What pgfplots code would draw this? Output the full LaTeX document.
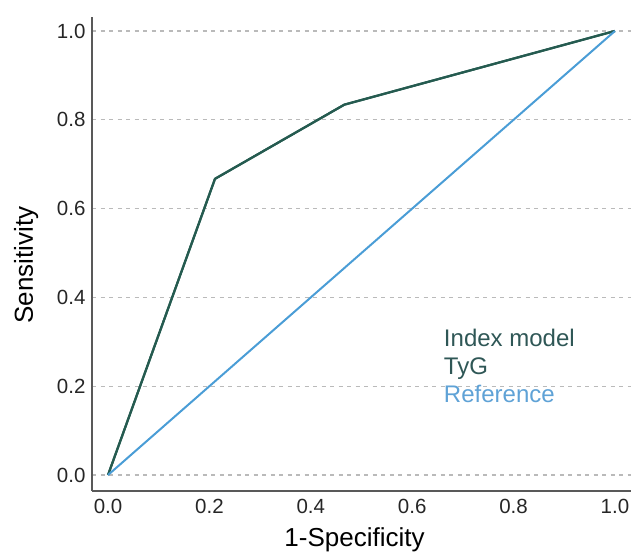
\documentclass[border=0pt]{standalone}
\usepackage{fontspec}
\setmainfont{Liberation Sans}
\usepackage{pgfplots}
\pgfplotsset{compat=1.18}
\definecolor{idx}{HTML}{255B50}
\definecolor{idxtext}{HTML}{2F5756}
\definecolor{refl}{HTML}{4A9DD6}
\definecolor{reft}{HTML}{5FA2D6}
\begin{document}
\begin{tikzpicture}
\useasboundingbox (-92pt,-62pt) rectangle (539pt,491pt);
\begin{axis}[
  scale only axis, width=539pt, height=474pt,
  xmin=-0.0316, xmax=1.0316, ymin=-0.036, ymax=1.0315,
  axis x line=bottom, axis y line=left,
  axis line style={-, draw=black!65, line width=1.4pt},
  xtick={0,0.2,0.4,0.6,0.8,1}, ytick={0,0.2,0.4,0.6,0.8,1},
  major tick length=0pt,
  /pgf/number format/assume math mode=true,
  /pgf/number format/fixed,
  /pgf/number format/fixed zerofill,
  /pgf/number format/precision=1,
  xticklabel style={yshift=-5pt},
  yticklabel style={xshift=-3pt},
  tick label style={font=\fontsize{20.5}{24}\selectfont, text=black!85},
  ymajorgrids,
  grid style={draw=black!27, line width=1.1pt, dash pattern=on 4pt off 4.5pt},
  xlabel={1-Specificity}, ylabel={Sensitivity},
  label style={font=\fontsize{26}{30}\selectfont},
  xlabel style={at={(axis description cs:0.487,-0.118)}, anchor=base},
  ylabel style={at={(axis description cs:-0.1095,0.477)}, anchor=base},
  legend image code/.code={},
  legend cell align=left,
  legend style={at={(axis cs:0.6627,0.3266)}, anchor=north west, draw=none, fill=none,
    inner sep=0pt, outer sep=0pt, row sep=0pt,
    font=\fontsize{24}{28}\selectfont,
    nodes={inner sep=0pt, outer sep=0pt, text height=17pt, text depth=11pt}},
]
\addplot[idx, line width=2.2pt, line join=round] coordinates {(0,0) (0.211,0.667) (0.466,0.834) (1,1)};
\addlegendentry{\textcolor{idxtext}{Index model}}
\addplot[idx, line width=2.2pt, line join=round] coordinates {(0,0) (0.211,0.667) (0.466,0.834) (1,1)};
\addlegendentry{\textcolor{idxtext}{TyG}}
\addplot[refl, line width=2pt] coordinates {(0,0) (1,1)};
\addlegendentry{\textcolor{reft}{Reference}}
\end{axis}
\end{tikzpicture}
\end{document}
